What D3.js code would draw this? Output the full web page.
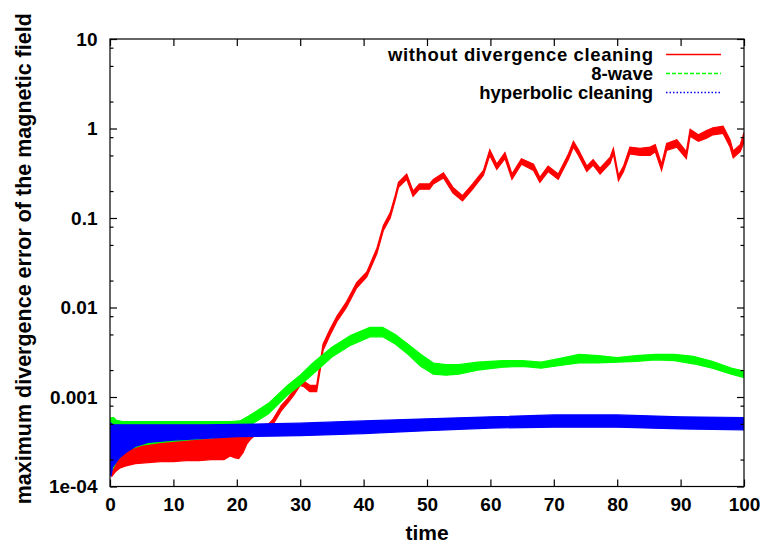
<!DOCTYPE html>
<html lang="en">
<head>
  <meta charset="UTF-8">
  <script src="https://cdnjs.cloudflare.com/ajax/libs/d3/7.8.5/d3.min.js"></script>
  <title>Divergence error</title>
  <style>
    body { margin: 0; background: #fff; }
    text { font-family: "Liberation Sans", Arial, sans-serif; font-weight: bold; fill: #000; }
  </style>
</head>
<body>
  <div id="chart"></div>
  <script>
    // tick values and labels
    const xTicks = [0, 10, 20, 30, 40, 50, 60, 70, 80, 90, 100];
    const yTicks = [1e-4, 1e-3, 1e-2, 1e-1, 1, 10];
    const yTickLabels = ['1e-04', '0.001', '0.01', '0.1', '1', '10'];
    const yMinorTicks = [2e-4, 5e-4, 8e-4, 2e-3, 5e-3, 8e-3, 2e-2, 5e-2, 8e-2, 0.2, 0.5, 0.8, 2, 5, 8];
    const seriesNames = ['without divergence cleaning', '8-wave', 'hyperbolic cleaning'];

    // without divergence cleaning (band: low / high)
    const redTime = [0, 0.3, 0.8, 1.5, 2.5, 4, 6, 8, 10, 12, 14, 16, 18, 19, 19.6, 20.3, 21, 21.6, 22.2, 23, 24, 25, 25.6,
      27, 28, 29, 30, 30.6, 31.5, 32.6, 33.1, 33.6, 34.7, 35.8, 37.3, 38.9, 40.5, 42.1, 43.1, 44.2, 45, 45.5, 46.8,
      47.8, 48.8, 50.4, 51, 52.6, 54.1, 55.6, 57.2, 58.9, 59.9, 61, 62.3, 63.4, 64.9, 66.8, 67.8, 69.1, 70.7, 72.3,
      73.1, 73.9, 75.2, 76.2, 77.3, 78.9, 79.4, 80.2, 81, 82, 83.6, 85.2, 86, 87, 87.8, 89.4, 90.9, 91.5, 92.8, 94.1,
      95.1, 96.7, 97.8, 98.3, 99.4, 100];
    const redLow = [1.5e-4, 1.3e-4, 1.45e-4, 1.6e-4, 1.7e-4, 1.8e-4, 1.85e-4, 1.9e-4, 1.9e-4, 1.95e-4, 1.95e-4, 2.0e-4,
      2.0e-4, 2.2e-4, 2.1e-4, 2.05e-4, 2.4e-4, 3.0e-4, 3.4e-4, 3.8e-4, 4.0e-4, 4.4e-4, 4.8e-4,
      7.0e-4, 8.5e-4, 1.05e-3, 1.35e-3, 1.3e-3, 1.15e-3, 1.15e-3, 1.9e-3, 3.3e-3, 4.9e-3, 7.0e-3, 0.0100, 0.0165,
      0.022, 0.040, 0.072, 0.100, 0.16, 0.22, 0.27,
      0.175, 0.21, 0.21, 0.24, 0.28, 0.19, 0.155, 0.21, 0.30, 0.50, 0.35, 0.46, 0.27, 0.40, 0.34, 0.25, 0.33, 0.27, 0.45,
      0.62, 0.50, 0.33, 0.39, 0.31, 0.41, 0.52, 0.26, 0.33, 0.52, 0.50, 0.50, 0.55, 0.34, 0.57, 0.62, 0.46, 0.82, 0.72, 0.78,
      0.85, 0.88, 0.62, 0.47, 0.55, 0.70];
    const redHigh = [2.3e-4, 2.0e-4, 2.5e-4, 2.7e-4, 2.8e-4, 2.9e-4, 3.0e-4, 3.1e-4, 3.2e-4, 3.3e-4, 3.35e-4, 3.4e-4,
      3.5e-4, 3.6e-4, 3.7e-4, 3.8e-4, 4.2e-4, 4.5e-4, 4.7e-4, 4.8e-4, 4.9e-4, 5.0e-4, 5.5e-4,
      8.0e-4, 9.6e-4, 1.2e-3, 1.55e-3, 1.5e-3, 1.35e-3, 1.35e-3, 2.3e-3, 3.9e-3, 5.7e-3, 8.0e-3, 0.0116, 0.019,
      0.025, 0.046, 0.082, 0.115, 0.18, 0.25, 0.31,
      0.20, 0.24, 0.24, 0.27, 0.32, 0.22, 0.178, 0.24, 0.34, 0.58, 0.40, 0.54, 0.31, 0.46, 0.40, 0.285, 0.38, 0.31, 0.52,
      0.72, 0.58, 0.38, 0.45, 0.36, 0.48, 0.60, 0.30, 0.38, 0.62, 0.60, 0.62, 0.66, 0.40, 0.68, 0.75, 0.55, 0.98, 0.85, 0.95,
      1.02, 1.06, 0.75, 0.56, 0.66, 0.90];

    // 8-wave
    const greenTime = [0, 0.5, 1, 2, 3, 5, 8, 12, 16, 19, 20.5, 22, 25, 28, 30, 32, 35, 38, 41, 43,
      45, 47, 49, 51, 53, 55, 58, 62, 65, 68, 71, 74, 77, 80, 83, 86, 89, 92, 95, 98, 100];
    const greenLow = [1.4e-4, 1.6e-4, 1.9e-4, 2.3e-4, 2.6e-4, 2.9e-4, 3.1e-4, 3.3e-4, 3.5e-4, 3.8e-4,
      4.1e-4, 4.8e-4, 6.5e-4, 1.05e-3, 1.35e-3, 1.8e-3, 2.8e-3, 3.8e-3, 4.7e-3, 4.7e-3,
      3.9e-3, 3.0e-3, 2.2e-3, 1.8e-3, 1.75e-3, 1.8e-3, 2.0e-3, 2.15e-3, 2.2e-3, 2.1e-3,
      2.25e-3, 2.4e-3, 2.4e-3, 2.45e-3, 2.5e-3, 2.6e-3, 2.55e-3, 2.35e-3, 2.1e-3, 1.8e-3, 1.65e-3];
    const greenHigh = [5.8e-4, 5.9e-4, 5.5e-4, 5.3e-4, 5.3e-4, 5.3e-4, 5.3e-4, 5.3e-4, 5.3e-4, 5.3e-4,
      5.4e-4, 6.2e-4, 8.5e-4, 1.35e-3, 1.75e-3, 2.4e-3, 3.6e-3, 4.9e-3, 6.0e-3, 6.0e-3,
      5.0e-3, 3.9e-3, 3.0e-3, 2.4e-3, 2.3e-3, 2.3e-3, 2.45e-3, 2.55e-3, 2.55e-3, 2.45e-3,
      2.7e-3, 3.0e-3, 2.9e-3, 2.75e-3, 2.9e-3, 3.0e-3, 3.0e-3, 2.85e-3, 2.5e-3, 2.1e-3, 1.95e-3];

    // hyperbolic cleaning
    const blueTime = [0, 0.15, 0.4, 0.8, 1.5, 2.5, 4, 6, 10, 15, 20, 30, 40, 50, 60, 70, 80, 90, 100];
    const blueLow = [1.6e-4, 1.3e-4, 1.65e-4, 1.8e-4, 2.1e-4, 2.4e-4, 2.8e-4, 3.1e-4, 3.3e-4, 3.45e-4,
      3.6e-4, 3.7e-4, 3.9e-4, 4.2e-4, 4.5e-4, 4.6e-4, 4.6e-4, 4.4e-4, 4.3e-4];
    const blueHigh = [5.0e-4, 5.1e-4, 4.9e-4, 4.9e-4, 4.9e-4, 4.9e-4, 4.9e-4, 4.9e-4, 4.9e-4, 4.9e-4,
      4.95e-4, 5.1e-4, 5.4e-4, 5.7e-4, 6.0e-4, 6.3e-4, 6.3e-4, 6.0e-4, 5.9e-4];

    const W = 763, H = 546;
    const margin = { top: 39, right: 19, bottom: 59.5, left: 110 };

    const svg = d3.select('#chart').append('svg')
      .attr('width', W)
      .attr('height', H);

    const x = d3.scaleLinear().domain([0, 100]).range([margin.left, W - margin.right]);
    const y = d3.scaleLog().domain([1e-4, 10]).range([H - margin.bottom, margin.top]);

    const zip = (t, lo, hi) => t.map((v, i) => ({ t: v, lo: lo[i], hi: hi[i] }));
    const series = [
      { data: zip(redTime, redLow, redHigh), color: '#ff0000', dash: null },
      { data: zip(greenTime, greenLow, greenHigh), color: '#00ff00', dash: '4,2' },
      { data: zip(blueTime, blueLow, blueHigh), color: '#0000ff', dash: '1.5,2' }
    ];

    svg.append('clipPath').attr('id', 'clip')
      .append('rect')
      .attr('x', x(0)).attr('y', y(10))
      .attr('width', x(100) - x(0)).attr('height', y(1e-4) - y(10));

    const area = d3.area()
      .x(d => x(d.t))
      .y0(d => y(d.lo))
      .y1(d => y(d.hi));

    const plot = svg.append('g').attr('clip-path', 'url(#clip)');
    series.forEach(s => {
      plot.append('path')
        .datum(s.data)
        .attr('d', area)
        .attr('fill', s.color)
        .attr('stroke', s.color)
        .attr('stroke-width', 1.2);
    });

    // axes with inward ticks
    function styleAxis(g) {
      g.select('.domain').remove();
      g.selectAll('line').attr('stroke', '#000').attr('stroke-width', 1.2);
      g.selectAll('text').attr('font-size', 19).attr('font-family', null);
    }

    svg.append('g')
      .attr('transform', `translate(0,${y(1e-4)})`)
      .call(d3.axisBottom(x).tickValues(xTicks).tickSize(-7).tickPadding(11.5))
      .call(styleAxis);
    svg.append('g')
      .attr('transform', `translate(0,${y(10)})`)
      .call(d3.axisTop(x).tickValues(xTicks).tickSize(-7).tickFormat(''))
      .call(styleAxis);
    svg.append('g')
      .attr('transform', `translate(${x(0)},0)`)
      .call(d3.axisLeft(y).tickValues(yTicks).tickSize(-7).tickPadding(12.5)
        .tickFormat((d, i) => yTickLabels[i]))
      .call(styleAxis);
    svg.append('g')
      .attr('transform', `translate(${x(0)},0)`)
      .call(d3.axisLeft(y).tickValues(yMinorTicks).tickSize(-3.5).tickFormat(''))
      .call(styleAxis);
    svg.append('g')
      .attr('transform', `translate(${x(100)},0)`)
      .call(d3.axisRight(y).tickValues(yTicks).tickSize(-7).tickFormat(''))
      .call(styleAxis);
    svg.append('g')
      .attr('transform', `translate(${x(100)},0)`)
      .call(d3.axisRight(y).tickValues(yMinorTicks).tickSize(-3.5).tickFormat(''))
      .call(styleAxis);

    svg.append('rect')
      .attr('x', x(0)).attr('y', y(10))
      .attr('width', x(100) - x(0)).attr('height', y(1e-4) - y(10))
      .attr('fill', 'none')
      .attr('stroke', '#000')
      .attr('stroke-width', 1.2);

    // axis titles
    svg.append('text')
      .attr('x', (x(0) + x(100)) / 2)
      .attr('y', 540)
      .attr('text-anchor', 'middle')
      .attr('font-size', 21)
      .text('time');
    svg.append('text')
      .attr('transform', `translate(30.5,${(y(10) + y(1e-4)) / 2 - 4}) rotate(-90)`)
      .attr('text-anchor', 'middle')
      .attr('font-size', 21.5)
      .text('maximum divergence error of the magnetic field');

    // legend
    const legend = svg.append('g');
    series.forEach((s, i) => {
      const by = 61 + i * 19;
      legend.append('text')
        .attr('x', 653)
        .attr('y', by)
        .attr('text-anchor', 'end')
        .attr('font-size', 18.5)
        .attr('textLength', i === 0 ? 265 : null)
        .text(seriesNames[i]);
      legend.append('line')
        .attr('x1', 666).attr('x2', 721)
        .attr('y1', by - 6.5).attr('y2', by - 6.5)
        .attr('stroke', s.color)
        .attr('stroke-width', 1.5)
        .attr('stroke-dasharray', s.dash);
    });
  </script>
</body>
</html>
